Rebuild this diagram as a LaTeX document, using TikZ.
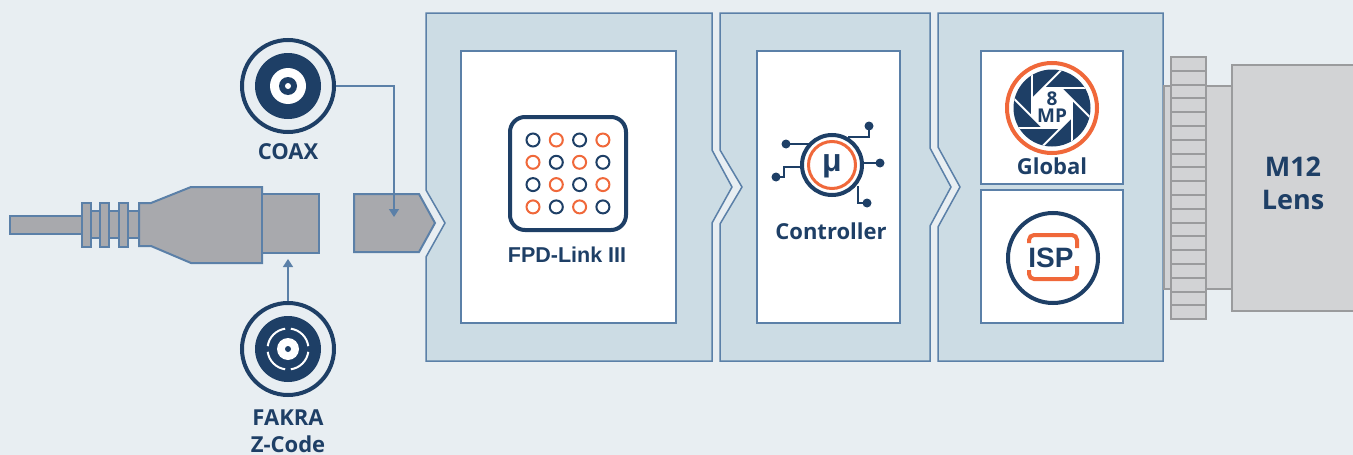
\documentclass[tikz,border=0pt]{standalone}
\usepackage{fontspec}
\setmainfont{Open Sans}
\newfontfamily\linkfont{Liberation Sans}
\usetikzlibrary{arrows.meta,calc}
\definecolor{bgcol}{HTML}{E8EEF2}
\definecolor{panelcol}{HTML}{CCDCE4}
\definecolor{edgecol}{HTML}{5B80A8}
\definecolor{navy}{HTML}{1E3F66}
\definecolor{accent}{HTML}{F0683A}
\definecolor{plugcol}{HTML}{A8A9AD}
\definecolor{lenscol}{HTML}{D2D3D5}
\definecolor{lensedge}{HTML}{9A9B9D}
\colorlet{tone0}{navy}
\colorlet{tone1}{accent}
\newcommand{\txt}[1]{\bfseries\fontsize{#1}{#1}\selectfont}

\begin{document}
\begin{tikzpicture}[x=1pt,y=-1pt,
  panel/.style={fill=panelcol,draw=edgecol,line width=1.5pt},
  innerbox/.style={fill=white,draw=edgecol,line width=1.5pt},
  plug/.style={fill=plugcol,draw=edgecol,line width=2pt},
  link/.style={draw=edgecol,line width=1.5pt,-{Triangle[length=8pt,width=10pt]}},
  port/.style={circle,draw=navy,line width=4pt,minimum size=92pt,inner sep=0pt},
  lens/.style={fill=lenscol,draw=lensedge,line width=2pt},
  pin/.style={draw=navy,line width=2pt},
  tag/.style={text=navy,font=\bfseries\fontsize{22}{27}\selectfont,align=center}]
\fill[bgcol] (0,0) rectangle (1353,455);
\useasboundingbox (0,0) rectangle (1353,455);

\draw[panel] (426,13) -- (712,13) -- (712,150) -- (732,187) -- (712,223) -- (712,361) -- (426,361) -- (426,257) -- (445,223) -- (426,190) -- cycle;
\draw[panel] (720,13) -- (930,13) -- (930,148) -- (951,187) -- (930,226) -- (930,361) -- (720,361) -- (720,224) -- (742,187) -- (720,150) -- cycle;
\draw[panel] (938,13) -- (1163,13) -- (1163,361) -- (938,361) -- (938,227) -- (960,187) -- (938,147) -- cycle;
\draw[innerbox] (461,51) rectangle (676,323);
\draw[innerbox] (757,51) rectangle (900,323);
\draw[innerbox] (981,51) rectangle (1123,184);
\draw[innerbox] (981,190) rectangle (1123,323);

\draw[plug] (10,216) rectangle (82,234);
\draw[plug] (82,211) rectangle (139,238);
\foreach \x in {82,100,119}
  \draw[plug] (\x,203) rectangle (\x+9,247);
\draw[plug] (139,203) -- (151,203) -- (191,187) -- (262,187) -- (262,263) -- (191,263) -- (151,246) -- (139,246) -- cycle;
\node[plug,minimum width=57pt,minimum height=59pt,inner sep=0pt] (head) at (290.5,223.5) {};
\draw[plug] (354,194) -- (419,194) -- (435,223) -- (419,252) -- (354,252) -- cycle;
\coordinate (socketpin) at (394,217);

\node[port] (coax) at (288,86) {};
\fill[navy] (coax.center) circle[radius=33pt];
\fill[white] (coax.center) circle[radius=18pt];
\fill[navy] (coax.center) circle[radius=9pt];
\fill[white] (coax.center) circle[radius=3pt];
\node[tag] (coaxlabel) at (288,152) {COAX};

\node[port] (fakra) at (288,349) {};
\fill[navy] (fakra.center) circle[radius=33pt];
\foreach \a in {0,90,180,270}
  \draw[white,line width=2pt] ([shift={(\a+8:20.5pt)}]fakra.center) arc[start angle=\a+8,end angle=\a+82,radius=20.5pt];
\fill[white] (fakra.center) circle[radius=11pt];
\fill[navy] (fakra.center) circle[radius=3pt];
\node[tag] (fakralabel) at (288,431) {FAKRA\\Z-Code};

\draw[link] (coax.east) -| (socketpin);
\draw[link] (fakra.north) -- ([yshift=-5pt]fakra.north |- head.south);

\draw[navy,line width=4pt,rounded corners=15pt] (510,117) rectangle (626,230);
\foreach \r in {0,...,3}
  \foreach \c in {0,...,3} {
    \pgfmathtruncatemacro{\t}{mod(\r+\c,2)}
    \draw[tone\t,line width=2pt] (533+23.3*\c,140+22.3*\r) circle[radius=6.5pt];
  }
\node[text=navy,font=\linkfont\txt{21.5}] (fpdlabel) at (567,255) {FPD-Link III};

\node[circle,draw=navy,line width=4pt,minimum size=60pt,inner sep=0pt] (mcu) at (832,165) {};
\draw[accent,line width=3pt] (mcu.center) circle[radius=23.5pt];
\node[text=navy,font=\linkfont\txt{32}] at (832,166) {μ};
\draw[pin] (786,144) -- (810,144);
\draw[pin] (776,177) -- (784,177) -- (784,167) -- (803,167);
\draw[pin] (880,163) -- (862,163);
\draw[pin] (869,126) -- (869,137) -- (848,137);
\draw[pin] (867,203) -- (858,203) -- (858,186);
\foreach \p in {(786,144),(776,177),(880,163),(869,126),(867,203)}
  \fill[navy] \p circle[radius=4.5pt];
\node[tag] (mculabel) at (831,231) {Controller};

\begin{scope}[shift={(1052,108)}]
\draw[accent,line width=4pt] (0,0) circle[radius=45pt];
\fill[navy] (0,0) circle[radius=38.5pt];
\begin{scope}
\clip (0,0) circle[radius=38.5pt];
\fill[white] (22.5:22) \foreach \a in {67.5,112.5,...,337.5} { -- (\a:22) } -- cycle;
\foreach \a in {22.5,67.5,...,337.5}
  \draw[white,line width=2pt] (\a:22) -- ($(\a:22)!3!(\a+45:22)$);
\end{scope}
\end{scope}
\node[text=navy,font=\bfseries\fontsize{19}{16.5}\selectfont,align=center] at (1052,107) {8\\MP};
\node[tag] (shutterlabel) at (1052,166) {Global};

\draw[navy,line width=4pt] (1053,258) circle[radius=45pt];
\draw[accent,line width=4pt,rounded corners=5pt] (1029,243) -- (1029,235) -- (1077,235) -- (1077,248);
\draw[accent,line width=4pt,rounded corners=5pt] (1029,270) -- (1029,279) -- (1077,279) -- (1077,266);
\node[text=navy,font=\linkfont\txt{28}] (isplabel) at (1051,258) {ISP};

\draw[lens] (1164,86) rectangle (1171,289);
\draw[lens] (1206,86) rectangle (1232,289);
\draw[lens] (1232,65) rectangle (1362,311);
\draw[lens] (1171,57) rectangle (1206,319);
\foreach \k in {1,...,18}
  \draw[lensedge,line width=2pt] (1171,57+13.8*\k) -- (1206,57+13.8*\k);
\node[text=navy,font=\bfseries\fontsize{27}{33}\selectfont,align=center] (lenslabel) at (1293,183) {M12\\Lens};
\end{tikzpicture}
\end{document}
